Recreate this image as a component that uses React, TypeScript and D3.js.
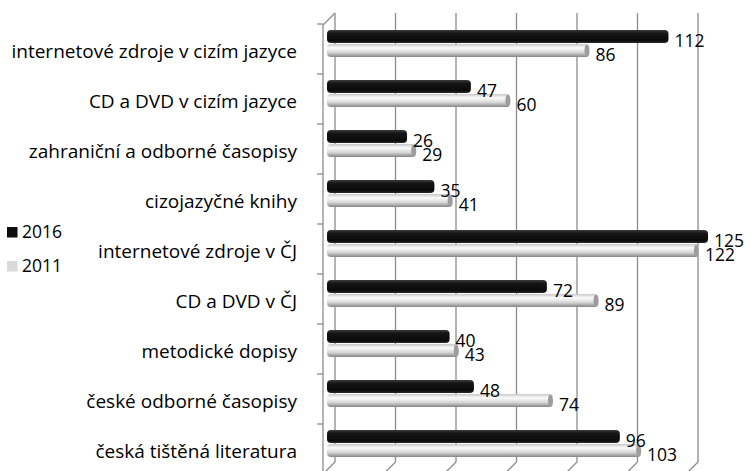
import React from 'react'
import * as d3 from 'd3'

// categories top -> bottom
const categories = [
  'internetové zdroje v cizím jazyce',
  'CD a DVD v cizím jazyce',
  'zahraniční a odborné časopisy',
  'cizojazyčné knihy',
  'internetové zdroje v ČJ',
  'CD a DVD v ČJ',
  'metodické dopisy',
  'české odborné časopisy',
  'česká tištěná literatura',
]
const values2016 = [112, 47, 26, 35, 125, 72, 40, 48, 96]
const values2011 = [86, 60, 29, 41, 122, 89, 43, 74, 103]
const seriesNames = ['2016', '2011']
const gridTicks = [0, 20, 40, 60, 80, 100, 120]

const W = 751
const H = 471
const FONT = '"Open Sans", "Noto Sans", sans-serif'

export default function App() {
  // back wall (gridlines) and front plane (bars) are offset like Excel's 3D
  const xGrid = d3.scaleLinear().domain([0, 120]).range([335, 698])
  const xBar = d3.scaleLinear().domain([0, 125]).range([328, 708])
  const y = d3.scaleBand<string>().domain(categories).range([24, 474]).padding(0)
  const ySeries = d3.scaleBand<string>().domain(seriesNames).range([6, 34]).padding(0)
  const bh = ySeries.bandwidth()

  const rows = categories.map((c, i) => ({ cat: c, v: [values2016[i], values2011[i]] }))
  const boundaries = d3.range(categories.length + 1).map((k) => 24 + k * y.step())

  const grid = '#8c8c8c'

  return (
    <svg width={W} height={H} style={{ position: 'absolute', left: 0, top: 0, background: '#fff' }}>
      <defs>
        <linearGradient id="gBlack" x1="0" y1="0" x2="0" y2="1">
          <stop offset="0" stopColor="#3c3c3c" />
          <stop offset="0.25" stopColor="#151515" />
          <stop offset="0.8" stopColor="#0a0a0a" />
          <stop offset="1" stopColor="#2a2a2a" />
        </linearGradient>
        <linearGradient id="gGray" x1="0" y1="0" x2="0" y2="1">
          <stop offset="0" stopColor="#c8c8c8" />
          <stop offset="0.3" stopColor="#fbfbfb" />
          <stop offset="0.65" stopColor="#d6d6d6" />
          <stop offset="1" stopColor="#858585" />
        </linearGradient>
      </defs>

      {/* gridlines on the back wall + floor diagonals */}
      {gridTicks.map((t) => (
        <g key={t}>
          <line x1={xGrid(t)} x2={xGrid(t)} y1={13} y2={462} stroke={grid} strokeWidth={1.3} />
          <line x1={xGrid(t)} x2={xGrid(t) - 12} y1={462} y2={474} stroke={grid} strokeWidth={1.3} />
        </g>
      ))}

      {/* left wall edge */}
      <line x1={323} x2={323} y1={25} y2={H} stroke={grid} strokeWidth={1.3} />
      <line x1={323} x2={335} y1={25} y2={13} stroke={grid} strokeWidth={1.3} />
      {boundaries.map((b) => (
        <line key={b} x1={317} x2={323} y1={b} y2={b} stroke={grid} strokeWidth={1.3} />
      ))}

      {/* bars */}
      {rows.map((r) => {
        const y0 = y(r.cat)!
        return (
          <g key={r.cat}>
            {r.v.map((v, s) => {
              const top = y0 + ySeries(seriesNames[s])!
              const x1 = xBar(v)
              return (
                <g key={s}>
                  <rect
                    x={xBar(0) - 1}
                    y={top}
                    width={x1 - xBar(0) + 1}
                    height={bh - 1}
                    rx={4}
                    fill={s === 0 ? 'url(#gBlack)' : 'url(#gGray)'}
                  />
                  {s === 1 && (
                    <ellipse cx={x1 - 2.5} cy={top + (bh - 1) / 2} rx={2.5} ry={(bh - 1) / 2 - 0.5} fill="#9d9d9d" />
                  )}
                </g>
              )
            })}
          </g>
        )
      })}

      {/* value labels, on top of all bars */}
      {rows.map((r) =>
        r.v.map((v, s) => (
          <text
            key={r.cat + s}
            x={xBar(v) + 6}
            y={y(r.cat)! + ySeries(seriesNames[s])! + bh + 3}
            fontFamily={FONT}
            fontSize={17.5}
            fill="#000"
          >
            {v}
          </text>
        ))
      )}

      {/* category labels */}
      {categories.map((c) => (
        <text
          key={c}
          x={297}
          y={y(c)! + 34}
          textAnchor="end"
          fontFamily={FONT}
          fontSize={19}
          fill="#000"
        >
          {c}
        </text>
      ))}

      {/* legend */}
      {seriesNames.map((n, i) => (
        <g key={n} transform={`translate(7, ${227 + i * 34})`}>
          <rect x={0} y={0} width={10.5} height={10.5} fill={i === 0 ? '#0d0d0d' : '#d9d9d9'} />
          <text x={15} y={11} fontFamily={FONT} fontSize={17.5} fill="#000">
            {n}
          </text>
        </g>
      ))}
    </svg>
  )
}
